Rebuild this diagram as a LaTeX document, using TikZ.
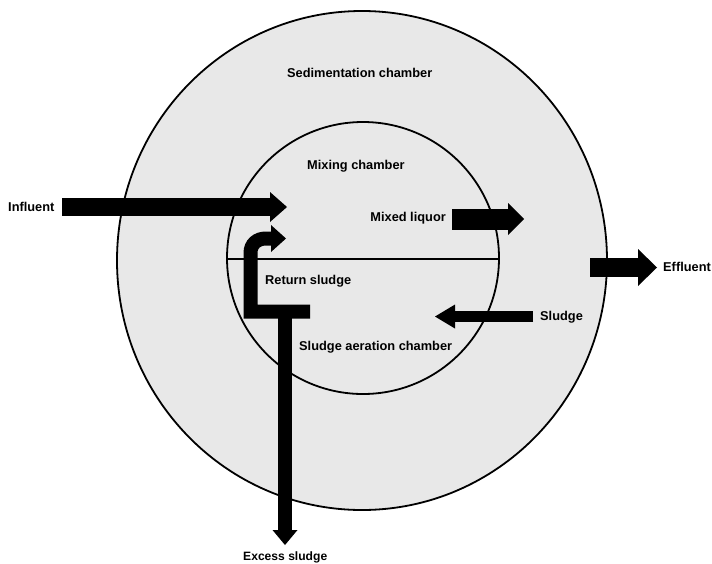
\documentclass[tikz,border=0pt]{standalone}
\usepackage{fontspec}
\setmainfont{Liberation Sans}
\usetikzlibrary{arrows.meta}
\begin{document}
\begin{tikzpicture}[x=1pt,y=-1pt,
  lbl/.style={font=\fontsize{12.8}{15}\bfseries, inner sep=0pt, anchor=west},
  chamber/.style={draw=black, line width=1.8pt, fill=gray!18},
  blockarrow/.style={draw=black, line cap=butt, line join=miter},
]
\useasboundingbox (0,0) rectangle (712,563);
% chambers
\path[chamber] (362,260.5) ellipse [x radius=245, y radius=249.5];
\path[chamber] (363,258) circle [radius=136];
\coordinate (dl) at (227,259);
\coordinate (dr) at (499,259);
\draw[line width=1.3pt] (dl) -- (dr);
% labels
\node[lbl] (sed) at (287,73) {Sedimentation chamber};
\node[lbl] (mix) at (307,166) {Mixing chamber};
\node[lbl] (inf) at (8,207) {Influent};
\node[lbl, anchor=east] (ml) at (446,218) {Mixed liquor};
\node[lbl] (rs) at (265,281) {Return sludge};
\node[lbl] (sac) at (299,347) {Sludge aeration chamber};
\node[lbl] (sl) at (540,317) {Sludge};
\node[lbl] (eff) at (663,267) {Effluent};
\node[lbl, font=\fontsize{12.1}{14}\bfseries] (ex) at (243,557) {Excess sludge};
% arrow anchor points
\coordinate (infS) at (62,207);
\coordinate (infE) at (287,207);
\coordinate (mlS) at (452,219);
\coordinate (mlE) at (524,219);
\coordinate (effS) at (590,267.5);
\coordinate (effE) at (657,267.5);
\coordinate (slS) at (533,316.5);
\coordinate (slE) at (435,316.5);
\coordinate (rsA) at (310,311.5);
\coordinate (rsB) at (250.5,311.5);
\coordinate (rsC) at (250.5,253);
\coordinate (rsD) at (266,238.5);
\coordinate (rsE) at (286,238.5);
\coordinate (exS) at (285,305);
\coordinate (exE) at (285,545);
% arrows
\draw[blockarrow, line width=18pt, -{Triangle[length=17pt,width=30pt,line width=0pt]}] (infS) -- (infE);
\draw[blockarrow, line width=21pt, -{Triangle[length=16pt,width=32pt,line width=0pt]}] (mlS) -- (mlE);
\draw[blockarrow, line width=19pt, -{Triangle[length=19pt,width=37pt,line width=0pt]}] (effS) -- (effE);
\draw[blockarrow, line width=11pt, -{Triangle[length=20pt,width=24pt,line width=0pt]}] (slS) -- (slE);
\draw[blockarrow, line width=14pt, -{Triangle[length=15pt,width=27pt,line width=0pt]}]
  (rsA) -- (rsB) -- (rsC) .. controls (250.5,244) and (257,238.5) .. (rsD) -- (rsE);
\draw[blockarrow, line width=14.5pt, -{Triangle[length=15pt,width=25pt,line width=0pt]}] (exS) -- (exE);
\end{tikzpicture}
\end{document}
